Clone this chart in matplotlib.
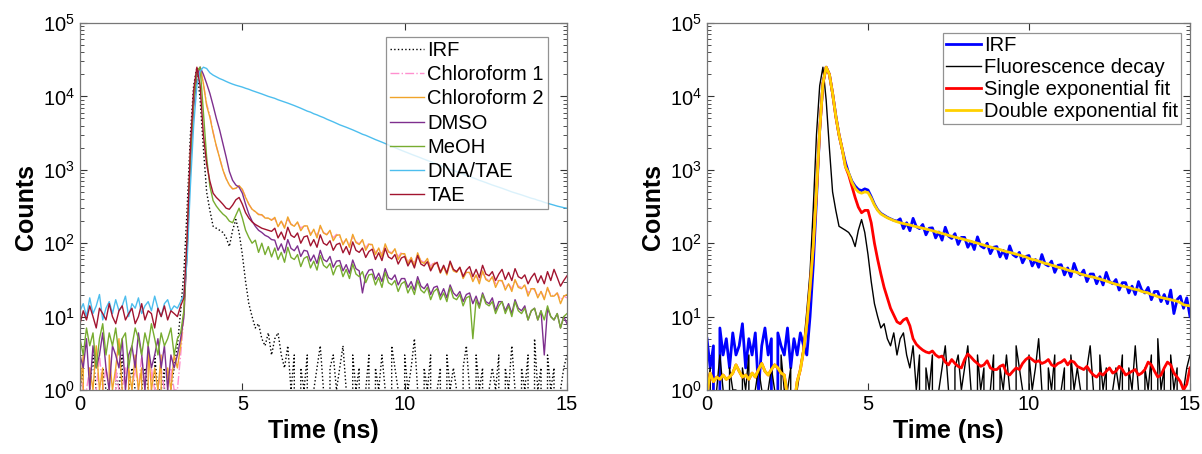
import numpy as np
import matplotlib
matplotlib.use("Agg")
import matplotlib.pyplot as plt

plt.rcParams['font.family'] = ['Liberation Sans', 'DejaVu Sans']
plt.rcParams['mathtext.fontset'] = 'custom'
plt.rcParams['mathtext.rm'] = 'Liberation Sans'

# time grid (ns), 0.1 ns bins
time_ns = np.round(np.arange(0, 151) * 0.1, 1)

# ---- left panel: decays in different solvents ----
irf_counts = [1,2,0,1,3,1,0,2,1,1,0,2,1,3,0,1,2,1,0,1,2,1,0,3,1,1,2,0,1,2,
              4,12,40,300,3000,14000,25000,9000,2000,500,
              280,170,160,150,140,120,90,150,210,140,
              70,30,15,10,7,8,5,4,6,3,
              5,6,3,2,4,1,3,0,2,1,
              3,0,1,2,4,1,0,2,3,1,
              2,4,1,0,3,1,2,0,1,3,
              0,2,1,3,1,0,4,2,1,0,
              3,1,2,5,1,0,2,1,3,0,
              1,2,0,3,1,2,1,0,2,4,
              1,0,3,1,2,0,1,2,1,3,
              0,2,1,4,1,0,2,1,3,0,
              5,1,2,0,3,1,2,0,1,2,
              3]

chloroform1 = [2,1,1,2,0,1,3,1,2,1,0,2,1,1,2,0,1,2,1,3,1,0,2,1,1,2,1,0,2,1,
               1,3,10,100,1500,8000,20000,25000,15000,8000,
               5500,3300,2100,1450,1000,760,620,550,560,600,
               540,430,340,290,265,250,240,225,215,210,
               215,175,198,170,210,182,175,190,160,175,
               165,135,150,128,162,140,132,145,118,132,
               122,100,112,95,124,105,98,110,86,100,
               91,75,84,72,92,78,74,82,65,75,
               68,56,63,54,70,58,55,61,48,56,
               51,42,47,40,52,44,41,46,36,42,
               39,32,36,31,40,33,31,35,28,32,
               30,25,28,24,31,26,25,27,21,25,
               23,19,22,18,24,20,19,21,17,19,
               18]

chloroform2 = [1,3,0,2,1,4,1,2,0,3,1,2,5,1,0,2,1,3,1,2,0,4,1,2,1,3,0,2,1,3,
               2,4,12,110,1600,8500,21000,25000,15000,7500,
               5200,3200,2100,1450,1000,760,620,550,560,610,
               540,420,340,290,270,245,245,220,220,205,
               225,168,200,160,228,180,170,195,148,172,
               172,128,155,118,175,138,130,150,108,128,
               130,95,115,88,132,102,96,112,80,97,
               96,70,86,65,98,76,72,84,60,72,
               72,52,64,49,74,56,53,62,44,53,
               53,39,48,37,55,42,40,47,33,40,
               40,30,37,28,42,32,30,35,25,31,
               31,23,28,22,32,25,24,27,19,24,
               24,18,22,17,25,19,19,21,15,19,
               20]

dmso = [3,2,5,1,4,2,3,6,2,1,4,3,2,5,1,3,4,2,6,3,1,4,2,3,5,2,4,1,3,2,
        3,5,10,80,1200,7000,19000,25000,20000,15000,
        11000,7500,5000,3500,2300,1500,950,720,620,580,
        480,340,250,200,170,150,140,128,122,112,
        110,80,98,74,112,85,79,92,66,80,
        78,57,69,53,80,60,56,66,47,57,
        58,42,51,39,59,45,42,21,36,43,
        44,32,39,30,45,34,32,37,27,33,
        33,25,30,23,35,26,24,28,20,25,
        26,19,24,18,27,21,19,22,16,20,
        21,15,19,14,21,16,15,18,12,16,
        16,12,15,11,17,13,12,14,9,12,
        13,9,12,3,13,10,9,11,7,10,
        8]

meoh = [5,3,7,4,6,2,5,8,3,6,4,7,3,5,6,2,4,7,5,3,6,4,8,5,3,6,4,5,7,3,
        5,6,12,90,1400,9000,22000,25000,6000,1500,
        600,380,320,280,250,230,200,190,240,300,
        220,150,120,100,110,75,100,70,90,65,
        86,60,75,55,88,64,60,70,48,62,
        66,46,57,43,68,50,46,53,37,48,
        50,35,44,33,52,38,35,41,29,37,
        38,27,34,25,40,29,27,31,22,28,
        30,21,26,20,31,23,21,25,17,22,
        24,17,21,16,25,18,17,20,14,18,
        19,5,17,13,20,15,14,16,11,14,
        16,11,14,10,16,12,11,13,9,12,
        13,9,12,9,14,10,9,11,7,10,
        11]

dna_tae = [12,15,10,18,11,14,20,9,13,16,11,17,12,14,19,10,15,13,18,11,14,16,12,19,13,10,15,17,12,14,
           13,16,20,60,600,4000,14000,22000,25000,24000,
           21000,19500,18500,17500,16800,16000,15300,14700,14200,13800,
           13400,12900,12500,12000,11600,11200,10800,10400,10000,9700,
           9400,9000,8700,8400,8100,7800,7500,7200,6900,6600,
           6300,6100,5800,5600,5350,5150,4900,4700,4500,4300,
           4100,3950,3800,3650,3500,3350,3200,3050,2950,2820,
           2700,2580,2480,2380,2280,2180,2090,2000,1920,1840,
           1770,1700,1630,1570,1510,1450,1390,1340,1290,1240,
           1190,1150,1100,1060,1020,980,940,905,870,840,
           810,780,750,720,695,670,645,620,600,580,
           560,540,520,500,485,470,455,440,425,410,
           400,385,375,360,350,340,330,320,312,305,
           300]

tae = [8,12,9,14,10,7,13,11,9,15,10,8,12,14,9,11,13,8,10,15,9,12,11,7,13,10,14,9,12,11,
       10,14,18,120,2000,12000,25000,14000,3000,1200,
       700,480,420,380,340,300,290,330,390,420,
       340,260,220,195,180,170,160,155,150,145,
       160,118,142,112,165,128,120,138,100,122,
       126,92,112,88,130,100,94,108,80,96,
       100,74,90,70,104,80,75,86,64,77,
       83,60,74,58,85,65,61,70,52,63,
       66,49,59,46,68,52,49,56,42,51,
       55,40,50,39,57,44,41,47,35,43,
       48,35,44,34,50,38,36,41,31,38,
       44,32,40,31,45,35,33,37,28,34,
       39,29,36,28,41,31,44,34,26,31,
       36]

# ---- right panel: fits ----
decay_data = [5,2,4,0,7,3,5,2,6,3,4,8,2,5,3,6,1,4,7,3,5,0,6,4,3,7,2,5,3,6,
              4,3,10,50,400,3500,15000,25000,20000,11000,
              5500,3000,1900,1250,900,700,600,540,520,550,
              530,430,340,285,255,240,225,215,205,200,
              215,158,190,148,218,168,158,180,130,160,
              162,118,142,110,165,125,116,135,96,120,
              120,88,106,82,122,92,86,100,72,88,
              90,65,80,62,92,70,65,75,54,66,
              68,49,60,47,70,52,49,57,40,50,
              51,37,46,35,53,40,37,43,30,38,
              38,28,35,27,40,30,28,32,23,29,
              29,21,26,20,30,23,21,25,17,22,
              22,16,20,15,23,11,17,19,13,18,
              10]

double_fit = [0.9,1.7,1.3,1.5,1.4,1.6,1.4,1.5,1.7,2.2,
              1.8,1.5,1.6,1.4,1.7,1.5,1.9,2.3,1.8,1.6,
              1.9,2.2,2.0,1.7,1.6,0.8,0.5,0.6,1.3,1.9,
              3.5,8,25,90,500,3500,15000,25000,20000,11000,
              5400,3000,1900,1100,900,680,560,500,480,500,
              490,410,330,280,250,235,222,212,203,196,
              190,185,181,177,172,168,164,160,156,152,
              148,144,140,136,132,128,124,121,118,115,
              112,109,106,103,100,97,94,91,89,86,
              84,82,79,77,75,73,71,69,67,65,
              62,60,59,57,55,53,52,50,49,47,
              46,45,43,42,41,40,38,37,36,35,
              34.5,33.5,32.5,31.5,30.5,29.5,28.5,27.5,27,26,
              25.5,25,24,23.5,23,22,21.5,21,20,19.5,
              18.7,18.2,17.8,17.4,17,16.6,16.2,15.5,14.5,14.2,
              14]

single_fit = [0.9,1.7,1.3,1.5,1.4,1.6,1.4,1.5,1.7,2.2,
              1.8,1.5,1.6,1.4,1.7,1.5,1.9,2.3,1.8,1.6,
              1.9,2.2,2.0,1.7,1.6,0.8,0.5,0.6,1.3,1.9,
              3.5,8,25,90,500,3500,15000,25000,20000,11000,
              5300,3000,1900,1100,850,600,420,310,260,280,
              280,190,100,60,38,25,18,13,10.5,8.5,
              8,9,9.5,7.5,5,4.2,3.8,3.5,3.3,3.2,
              3.4,3.0,2.8,2.9,2.4,2.2,2.6,2.3,2.1,2.0,
              2.6,3.1,2.8,2.5,2.3,2.1,2.2,2.5,2.0,1.9,
              1.9,2.1,2.2,1.7,1.6,1.8,2.0,1.9,2.3,2.6,
              2.8,2.6,2.4,2.5,2.3,2.4,2.6,2.2,2.1,2.3,
              2.4,2.6,2.2,2.5,2.4,2.1,2.0,1.9,2.1,1.8,
              1.6,1.5,1.7,1.6,1.8,2.0,1.7,1.8,2.1,1.9,
              1.6,1.7,1.8,1.9,1.6,1.7,1.9,2.4,2.2,1.8,
              1.5,1.6,2.0,2.4,2.2,1.7,1.5,1.3,1.0,1.2,
              2.0]

left_labels = ['IRF', 'Chloroform 1', 'Chloroform 2', 'DMSO', 'MeOH', 'DNA/TAE', 'TAE']
right_labels = ['IRF', 'Fluorescence decay', 'Single exponential fit', 'Double exponential fit']
x_ticks = [0, 5, 10, 15]

fig = plt.figure(figsize=(12.02, 4.54), dpi=100)
axL = fig.add_axes([80/1202, 64/454, 487/1202, 367/454])
axR = fig.add_axes([707/1202, 64/454, 483/1202, 367/454])

left_series = [irf_counts, chloroform1, chloroform2, dmso, meoh, dna_tae, tae]
left_colors = ['black', '#FF8FCF', '#F0A42A', '#7E2F8E', '#77AC30', '#4DBEEE', '#A2142F']
left_styles = [':', '-.', '-', '-', '-', '-', '-']
for data, lab, col, ls in zip(left_series, left_labels, left_colors, left_styles):
    axL.plot(time_ns, data, color=col, linestyle=ls, lw=1.0, label=lab)

right_series = [decay_data, irf_counts, single_fit, double_fit]
right_colors = ['#0000FF', 'black', '#FF0000', '#FFD000']
right_lw = [2.0, 1.0, 2.0, 2.0]
for data, lab, col, lw in zip(right_series, right_labels, right_colors, right_lw):
    axR.plot(time_ns, data, color=col, lw=lw, label=lab)

for ax in (axL, axR):
    ax.set_yscale('log', nonpositive='clip')
    ax.set_xlim(0, 15)
    ax.set_ylim(1, 1e5)
    ax.set_xticks(x_ticks)
    ax.set_xticklabels([str(v) for v in x_ticks])
    ax.tick_params(axis='both', which='both', direction='in', top=True, right=True,
                   labelsize=14.5, colors='#333333', labelcolor='black')
    ax.tick_params(which='major', length=5, width=0.8)
    ax.tick_params(which='minor', length=3, width=0.6)
    ax.tick_params(axis='x', which='minor', bottom=False, top=False)
    for sp in ax.spines.values():
        sp.set_color('#777777')
        sp.set_linewidth(0.9)
    ax.set_xlabel('Time (ns)', fontsize=18, fontweight='bold', labelpad=4)
    ax.set_ylabel('Counts', fontsize=18, fontweight='bold', labelpad=4)

legL = axL.legend(loc='upper right', bbox_to_anchor=(0.961, 0.962), fontsize=14.5,
                  frameon=True, fancybox=False, edgecolor='#777777',
                  handlelength=1.7, handletextpad=0.15, labelspacing=0.26,
                  borderpad=0.2, borderaxespad=0.0)
legL.get_frame().set_linewidth(0.9)
legR = axR.legend(loc='upper right', bbox_to_anchor=(0.981, 0.973), fontsize=14.5,
                  frameon=True, fancybox=False, edgecolor='#777777',
                  handlelength=1.7, handletextpad=0.15, labelspacing=0.15,
                  borderpad=0.15, borderaxespad=0.0)
legR.get_frame().set_linewidth(0.9)

fig.savefig('out.png', dpi=100)
